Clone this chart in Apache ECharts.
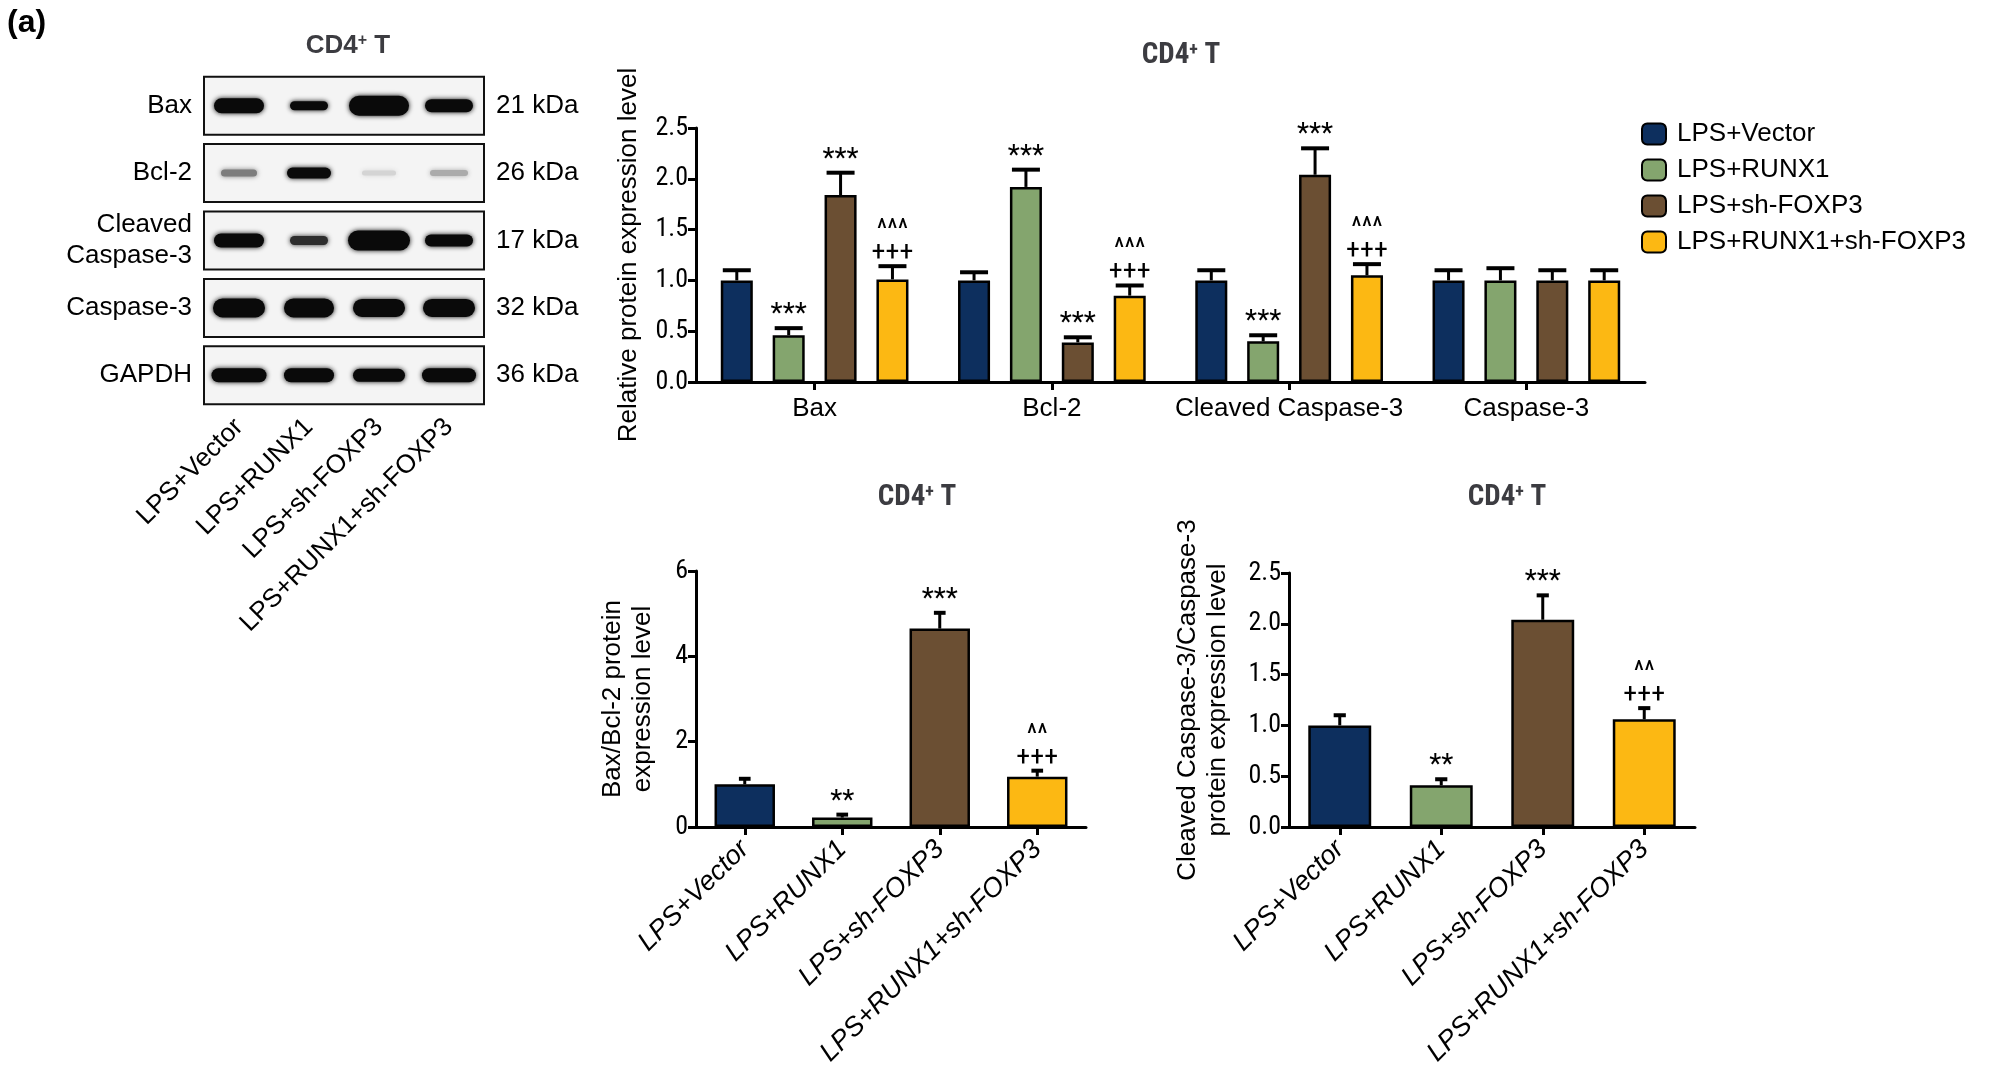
<!DOCTYPE html>
<html>
<head>
<meta charset="utf-8">
<script src="https://cdn.jsdelivr.net/npm/echarts@6/dist/echarts.min.js"></script>
<style>
  html, body { margin: 0; padding: 0; background: #fff; }
  #chart { width: 1991px; height: 1078px; }
</style>
</head>
<body>
<div id="chart"></div>
<script>
// ---- data ----
const groups = ['LPS+Vector', 'LPS+RUNX1', 'LPS+sh-FOXP3', 'LPS+RUNX1+sh-FOXP3'];
const colors = ['#0d2f5e', '#84a56e', '#6b4f33', '#fcb813'];
const proteins = ['Bax', 'Bcl-2', 'Cleaved Caspase-3', 'Caspase-3'];

// relative expression, one array per group (Bax, Bcl-2, Cleaved, Caspase-3)
const relMean = [
  [1.00, 1.00, 1.00, 1.00],
  [0.46, 1.92, 0.40, 1.00],
  [1.84, 0.39, 2.04, 1.00],
  [1.01, 0.85, 1.05, 1.00]
];
const relErr = [
  [0.10, 0.08, 0.10, 0.10],
  [0.07, 0.17, 0.06, 0.12],
  [0.22, 0.05, 0.26, 0.10],
  [0.13, 0.10, 0.11, 0.10]
];
const relSig = [
  ['', '', '', ''],
  ['***', '***', '***', ''],
  ['***', '***', '***', ''],
  ['^^^\n+++', '^^^\n+++', '^^^\n+++', '']
];

const ratioBaxMean = [1.00, 0.22, 4.65, 1.18];
const ratioBaxErr = [0.13, 0.07, 0.37, 0.14];
const ratioBaxSig = ['', '**', '***', '^^\n+++'];

const ratioCasMean = [1.00, 0.41, 2.04, 1.06];
const ratioCasErr = [0.10, 0.06, 0.24, 0.11];
const ratioCasSig = ['', '**', '***', '^^\n+++'];

// western blot rows; each band: [width px, height px, darkness 0..1]
const blotRows = ['Bax', 'Bcl-2', 'Cleaved\nCaspase-3', 'Caspase-3', 'GAPDH'];
const blotKda = ['21 kDa', '26 kDa', '17 kDa', '32 kDa', '36 kDa'];
const blotBands = [
  [[50, 15, 1], [38, 9, 1], [60, 20, 1], [48, 13, 1]],
  [[36, 7, 0.5], [44, 11, 1], [34, 5, 0.12], [38, 6, 0.3]],
  [[50, 14, 1], [38, 9, 0.85], [62, 20, 1], [48, 12, 1]],
  [[52, 19, 1], [50, 19, 1], [52, 18, 1], [52, 18, 1]],
  [[55, 14, 1], [50, 14, 1], [52, 13, 1], [54, 14, 1]]
];

// ---- helpers ----
const narrow = '"Liberation Sans Narrow", "Roboto Condensed", "Liberation Sans", sans-serif';
const sans = '"Liberation Sans", Arial, sans-serif';
const axisLine = { show: true, lineStyle: { color: '#000', width: 3 } };
const axisTick = { show: true, length: 8, lineStyle: { color: '#000', width: 3 } };
const catTick = { show: true, length: 8, alignWithLabel: true, lineStyle: { color: '#000', width: 3 } };

function errSeries(gridIdx, means, errs, sigs, offsetFrac) {
  const data = means.map((m, i) => [i, m, errs[i], sigs[i]]);
  return {
    type: 'custom', xAxisIndex: gridIdx, yAxisIndex: gridIdx, z: 5,
    data: data,
    renderItem: function (params, api) {
      const band = api.size([1, 0])[0];
      const off = offsetFrac * band;
      const top = api.coord([api.value(0), api.value(1) + api.value(2)]);
      const base = api.coord([api.value(0), api.value(1)]);
      const x = top[0] + off;
      const cap = band * 0.06 > 14 ? 14 : band * 0.06;
      const sig = data[params.dataIndex][3];
      return {
        type: 'group',
        children: [
          { type: 'line', shape: { x1: x, y1: base[1], x2: x, y2: top[1] }, style: { stroke: '#000', lineWidth: 3 } },
          { type: 'line', shape: { x1: x - cap, y1: top[1], x2: x + cap, y2: top[1] }, style: { stroke: '#000', lineWidth: 4 } },
          { type: 'text', x: x, y: top[1] - 2, style: { text: sig, align: 'center', verticalAlign: 'bottom', font: '28px ' + narrow, fill: '#000', lineHeight: 22 } }
        ]
      };
    }
  };
}

const titleRich = { b: { fontSize: 29, fontWeight: 'bold', fontFamily: narrow }, s: { fontSize: 18, fontWeight: 'bold', fontFamily: narrow, verticalAlign: 'top', padding: [0, 0, 12, 0] } };
const blotRich = { b: { fontSize: 26, fontWeight: 'bold', fontFamily: sans }, s: { fontSize: 16, fontWeight: 'bold', fontFamily: sans, verticalAlign: 'top', padding: [0, 0, 10, 0] } };

const series = [];
// top grouped chart
groups.forEach((g, gi) => {
  series.push({
    name: g, type: 'bar', xAxisIndex: 0, yAxisIndex: 0,
    data: relMean[gi], barWidth: '13.5%', barGap: '62%',
    itemStyle: { color: colors[gi], borderColor: '#000', borderWidth: 2.5 }
  });
});
groups.forEach((g, gi) => {
  series.push(errSeries(0, relMean[gi], relErr[gi], relSig[gi], (gi - 1.5) * 0.2187));
});
// bottom charts
series.push({
  type: 'bar', xAxisIndex: 1, yAxisIndex: 1, barWidth: '62%',
  data: ratioBaxMean.map((v, i) => ({ value: v, itemStyle: { color: colors[i] } })),
  itemStyle: { borderColor: '#000', borderWidth: 2.5 }
});
series.push(errSeries(1, ratioBaxMean, ratioBaxErr, ratioBaxSig, 0));
series.push({
  type: 'bar', xAxisIndex: 2, yAxisIndex: 2, barWidth: '62%',
  data: ratioCasMean.map((v, i) => ({ value: v, itemStyle: { color: colors[i] } })),
  itemStyle: { borderColor: '#000', borderWidth: 2.5 }
});
series.push(errSeries(2, ratioCasMean, ratioCasErr, ratioCasSig, 0));

// blot
series.push({
  type: 'custom', xAxisIndex: 3, yAxisIndex: 3,
  data: blotRows.map((r, i) => [i]),
  renderItem: function (params, api) {
    const row = api.value(0);
    const h = api.size([0, 1])[1];
    const c0 = api.coord([0, row]);
    const c4 = api.coord([4, row]);
    const boxH = h * 0.86;
    const children = [{
      type: 'rect',
      shape: { x: c0[0], y: c0[1] - boxH / 2, width: c4[0] - c0[0], height: boxH },
      style: { fill: '#f4f4f4', stroke: '#111', lineWidth: 2 }
    }];
    blotBands[row].forEach((b, li) => {
      const c = api.coord([li + 0.5, row]);
      const g = Math.round(240 - 230 * b[2]);
      const col = 'rgb(' + g + ',' + g + ',' + g + ')';
      children.push({
        type: 'rect',
        shape: { x: c[0] - b[0] / 2, y: c[1] - b[1] / 2, width: b[0], height: b[1], r: b[1] / 2 },
        style: { fill: col, shadowBlur: 5, shadowColor: col }
      });
    });
    return { type: 'group', children: children };
  }
});

const chart = echarts.init(document.getElementById('chart'));
chart.setOption({
  animation: false,
  backgroundColor: '#fff',
  title: [
    { text: '(a)', left: 2, top: 2, textStyle: { fontSize: 32, fontWeight: 'bold', fontFamily: sans, color: '#000' } },
    { text: '{b|CD4}{s|+}{b| T}', left: 343, top: 28, textAlign: 'center', textStyle: { rich: blotRich } },
    { text: '{b|CD4}{s|+}{b| T}', left: 1176, top: 36, textAlign: 'center', textStyle: { rich: titleRich } },
    { text: '{b|CD4}{s|+}{b| T}', left: 912, top: 478, textAlign: 'center', textStyle: { rich: titleRich } },
    { text: '{b|CD4}{s|+}{b| T}', left: 1502, top: 478, textAlign: 'center', textStyle: { rich: titleRich } }
  ],
  legend: {
    left: 1636, top: 116, orient: 'vertical', itemGap: 10, itemWidth: 24, itemHeight: 21,
    data: groups, selectedMode: false,
    textStyle: { fontSize: 26, fontFamily: sans, color: '#000', padding: [0, 0, 0, 6] }
  },
  grid: [
    { left: 696, top: 128, width: 949, height: 254 },
    { left: 696, top: 571, width: 390, height: 256 },
    { left: 1289, top: 573, width: 406, height: 254 },
    { left: 204, top: 72, width: 280, height: 337 }
  ],
  xAxis: [
    { type: 'category', gridIndex: 0, data: proteins, axisLine: axisLine, axisTick: catTick,
      axisLabel: { fontSize: 26, fontFamily: sans, color: '#000', margin: 14, interval: 0 } },
    { type: 'category', gridIndex: 1, data: groups, axisLine: axisLine, axisTick: catTick,
      axisLabel: { rotate: 45, fontSize: 27, fontStyle: 'italic', fontFamily: sans, color: '#000', margin: 18, interval: 0 } },
    { type: 'category', gridIndex: 2, data: groups, axisLine: axisLine, axisTick: catTick,
      axisLabel: { rotate: 45, fontSize: 27, fontStyle: 'italic', fontFamily: sans, color: '#000', margin: 18, interval: 0 } },
    { type: 'value', gridIndex: 3, min: 0, max: 4, show: false },
    { type: 'category', gridIndex: 3, position: 'bottom', data: groups, axisLine: { show: false }, axisTick: { show: false },
      axisLabel: { rotate: 45, fontSize: 26, fontFamily: sans, color: '#000', margin: 14, interval: 0 } }
  ],
  yAxis: [
    { type: 'value', gridIndex: 0, min: 0, max: 2.5, interval: 0.5, axisLine: axisLine, axisTick: axisTick, splitLine: { show: false },
      axisLabel: { fontSize: 26, fontFamily: narrow, color: '#000', formatter: v => v.toFixed(1) },
      name: 'Relative protein expression level', nameLocation: 'middle', nameGap: 54,
      nameTextStyle: { fontSize: 26, fontFamily: sans, color: '#000' } },
    { type: 'value', gridIndex: 1, min: 0, max: 6, interval: 2, axisLine: axisLine, axisTick: axisTick, splitLine: { show: false },
      axisLabel: { fontSize: 26, fontFamily: narrow, color: '#000' },
      name: 'Bax/Bcl-2 protein\nexpression level', nameLocation: 'middle', nameGap: 38,
      nameTextStyle: { fontSize: 26, fontFamily: sans, color: '#000', lineHeight: 30 } },
    { type: 'value', gridIndex: 2, min: 0, max: 2.5, interval: 0.5, axisLine: axisLine, axisTick: axisTick, splitLine: { show: false },
      axisLabel: { fontSize: 26, fontFamily: narrow, color: '#000', formatter: v => v.toFixed(1) },
      name: 'Cleaved Caspase-3/Caspase-3\nprotein expression level', nameLocation: 'middle', nameGap: 56,
      nameTextStyle: { fontSize: 26, fontFamily: sans, color: '#000', lineHeight: 30 } },
    { type: 'category', gridIndex: 3, data: blotRows, inverse: true, axisLine: { show: false }, axisTick: { show: false },
      axisLabel: { fontSize: 26, fontFamily: sans, color: '#000', margin: 12, lineHeight: 31 } },
    { type: 'category', gridIndex: 3, position: 'right', data: blotKda, inverse: true, axisLine: { show: false }, axisTick: { show: false },
      axisLabel: { fontSize: 26, fontFamily: sans, color: '#000', margin: 12 } }
  ],
  series: series
});
</script>
</body>
</html>
